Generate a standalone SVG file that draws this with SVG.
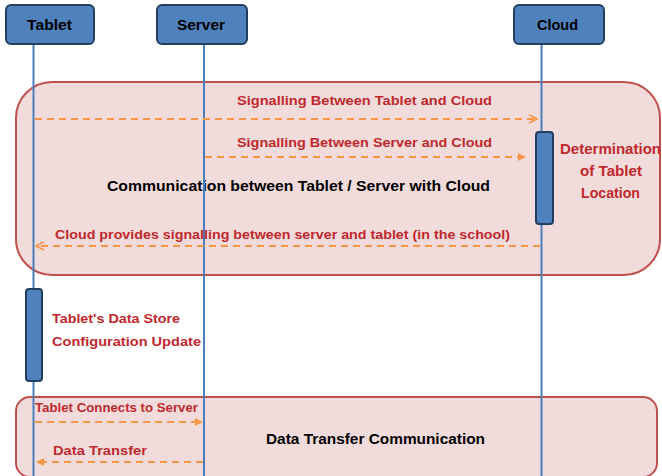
<svg xmlns="http://www.w3.org/2000/svg" width="662" height="476" viewBox="0 0 662 476">
  <defs>
    <style>
      .actor { fill: #4f81bd; stroke: #233f60; stroke-width: 2; }
      .act { fill: #4f81bd; stroke: #233f60; stroke-width: 2; }
      .frame { fill: #f2dcdb; stroke: #c0504d; stroke-width: 2; }
      .life { stroke: #4a7ebb; stroke-width: 2; fill: none; }
      .msg { stroke: #f79646; stroke-width: 2; stroke-dasharray: 7 5; fill: none; }
      .t { font-family: "Liberation Sans", Arial, sans-serif; font-weight: bold; }
      .name { font-size: 15px; fill: #000; text-anchor: middle; }
      .lbl { font-size: 13px; fill: #c0282d; }
      .big { font-size: 14.5px; }
      .title { font-size: 15px; fill: #000; }
    </style>
    <marker id="open" viewBox="0 0 10 10" refX="9" refY="5" markerWidth="10" markerHeight="10" markerUnits="userSpaceOnUse" orient="auto">
      <path d="M1,1 L9,5 L1,9" fill="none" stroke="#f79646" stroke-width="1.6"/>
    </marker>
    <marker id="solid" viewBox="0 0 10 10" refX="9" refY="5" markerWidth="10" markerHeight="10" markerUnits="userSpaceOnUse" orient="auto">
      <path d="M1,1 L9,5 L1,9 Z" fill="#f79646"/>
    </marker>
  </defs>

  <!-- combined fragments -->
  <g id="frame-cloud">
    <rect class="frame" x="16" y="82" width="644" height="193" rx="36" ry="36"/>
    <text class="t title" x="107" y="191" textLength="383" lengthAdjust="spacingAndGlyphs">Communication between Tablet / Server with Cloud</text>
  </g>
  <g id="frame-transfer">
    <rect class="frame" x="16" y="397" width="641" height="80" rx="14" ry="14"/>
    <text class="t title" x="266" y="444" textLength="219" lengthAdjust="spacingAndGlyphs">Data Transfer Communication</text>
  </g>

  <!-- lifelines -->
  <g id="lifelines">
    <line class="life" x1="33.5" y1="44" x2="33.5" y2="476"/>
    <line class="life" x1="204" y1="44" x2="204" y2="476"/>
    <line class="life" x1="541.5" y1="44" x2="541.5" y2="476"/>
  </g>

  <!-- participants -->
  <g id="tablet">
    <rect class="actor" x="6" y="5" width="88" height="39" rx="5" ry="5"/>
    <text class="t name" x="49.5" y="30" textLength="45" lengthAdjust="spacingAndGlyphs">Tablet</text>
  </g>
  <g id="server">
    <rect class="actor" x="157" y="5" width="90" height="39" rx="5" ry="5"/>
    <text class="t name" x="201" y="30" textLength="48" lengthAdjust="spacingAndGlyphs">Server</text>
  </g>
  <g id="cloud">
    <rect class="actor" x="514" y="5" width="90" height="39" rx="5" ry="5"/>
    <text class="t name" x="557.5" y="30" textLength="41" lengthAdjust="spacingAndGlyphs">Cloud</text>
  </g>

  <!-- activations -->
  <g id="cloud-activation">
    <rect class="act" x="536" y="132" width="17" height="92" rx="3" ry="3"/>
    <text class="t lbl big" x="560" y="154" textLength="101" lengthAdjust="spacingAndGlyphs">Determination</text>
    <text class="t lbl big" x="580" y="176" textLength="62" lengthAdjust="spacingAndGlyphs">of Tablet</text>
    <text class="t lbl big" x="581" y="198" textLength="59" lengthAdjust="spacingAndGlyphs">Location</text>
  </g>
  <g id="tablet-activation">
    <rect class="act" x="26" y="289" width="16" height="92" rx="3" ry="3"/>
    <text class="t lbl" x="52" y="323" textLength="128" lengthAdjust="spacingAndGlyphs">Tablet's Data Store</text>
    <text class="t lbl" x="52" y="346" textLength="149" lengthAdjust="spacingAndGlyphs">Configuration Update</text>
  </g>

  <!-- messages -->
  <g id="connectors">
    <line class="msg" x1="35" y1="119" x2="537" y2="119" marker-end="url(#open)"/>
    <text class="t lbl" x="237" y="105" textLength="255" lengthAdjust="spacingAndGlyphs">Signalling Between Tablet and Cloud</text>

    <line class="msg" x1="205" y1="157" x2="526" y2="157" marker-end="url(#solid)"/>
    <text class="t lbl" x="237" y="147" textLength="255" lengthAdjust="spacingAndGlyphs">Signalling Between Server and Cloud</text>

    <line class="msg" x1="540" y1="246" x2="36" y2="246" marker-end="url(#open)"/>
    <text class="t lbl" x="55" y="239" textLength="455" lengthAdjust="spacingAndGlyphs">Cloud provides signalling between server and tablet (in the school)</text>

    <line class="msg" x1="35" y1="422" x2="203" y2="422" marker-end="url(#solid)"/>
    <text class="t lbl" x="35" y="412" textLength="163" lengthAdjust="spacingAndGlyphs">Tablet Connects to Server</text>

    <line class="msg" x1="203" y1="462" x2="36" y2="462" marker-end="url(#solid)"/>
    <text class="t lbl" x="53" y="455" textLength="94" lengthAdjust="spacingAndGlyphs">Data Transfer</text>
  </g>
</svg>
